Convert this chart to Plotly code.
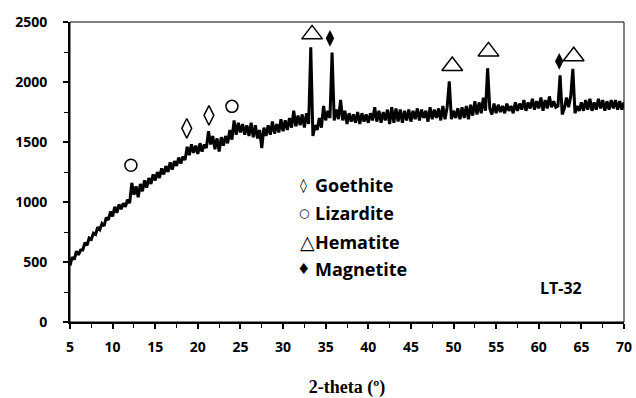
import plotly.graph_objects as go

# XRD pattern LT-32 (0.25 deg steps)
two_theta = [
    5.0, 5.25, 5.5, 5.75, 6.0, 6.25, 6.5, 6.75, 7.0, 7.25, 7.5, 7.75, 8.0, 8.25, 8.5, 8.75, 9.0, 9.25, 9.5, 9.75,
    10.0, 10.25, 10.5, 10.75, 11.0, 11.25, 11.5, 11.75, 12.0, 12.25, 12.5, 12.75, 13.0, 13.25, 13.5, 13.75, 14.0, 14.25, 14.5, 14.75,
    15.0, 15.25, 15.5, 15.75, 16.0, 16.25, 16.5, 16.75, 17.0, 17.25, 17.5, 17.75, 18.0, 18.25, 18.5, 18.75, 19.0, 19.25, 19.5, 19.75,
    20.0, 20.25, 20.5, 20.75, 21.0, 21.25, 21.5, 21.75, 22.0, 22.25, 22.5, 22.75, 23.0, 23.25, 23.5, 23.75, 24.0, 24.25, 24.5, 24.75,
    25.0, 25.25, 25.5, 25.75, 26.0, 26.25, 26.5, 26.75, 27.0, 27.25, 27.5, 27.75, 28.0, 28.25, 28.5, 28.75, 29.0, 29.25, 29.5, 29.75,
    30.0, 30.25, 30.5, 30.75, 31.0, 31.25, 31.5, 31.75, 32.0, 32.25, 32.5, 32.75, 33.0, 33.25, 33.5, 33.75, 34.0, 34.25, 34.5, 34.75,
    35.0, 35.25, 35.5, 35.75, 36.0, 36.25, 36.5, 36.75, 37.0, 37.25, 37.5, 37.75, 38.0, 38.25, 38.5, 38.75, 39.0, 39.25, 39.5, 39.75,
    40.0, 40.25, 40.5, 40.75, 41.0, 41.25, 41.5, 41.75, 42.0, 42.25, 42.5, 42.75, 43.0, 43.25, 43.5, 43.75, 44.0, 44.25, 44.5, 44.75,
    45.0, 45.25, 45.5, 45.75, 46.0, 46.25, 46.5, 46.75, 47.0, 47.25, 47.5, 47.75, 48.0, 48.25, 48.5, 48.75, 49.0, 49.25, 49.5, 49.75,
    50.0, 50.25, 50.5, 50.75, 51.0, 51.25, 51.5, 51.75, 52.0, 52.25, 52.5, 52.75, 53.0, 53.25, 53.5, 53.75, 54.0, 54.25, 54.5, 54.75,
    55.0, 55.25, 55.5, 55.75, 56.0, 56.25, 56.5, 56.75, 57.0, 57.25, 57.5, 57.75, 58.0, 58.25, 58.5, 58.75, 59.0, 59.25, 59.5, 59.75,
    60.0, 60.25, 60.5, 60.75, 61.0, 61.25, 61.5, 61.75, 62.0, 62.25, 62.5, 62.75, 63.0, 63.25, 63.5, 63.75, 64.0, 64.25, 64.5, 64.75,
    65.0, 65.25, 65.5, 65.75, 66.0, 66.25, 66.5, 66.75, 67.0, 67.25, 67.5, 67.75, 68.0, 68.25, 68.5, 68.75, 69.0, 69.25, 69.5, 69.75,
    70.0]
intensity = [
    470, 540, 520, 590, 560, 600, 600, 660, 640, 700, 690, 740, 730, 790, 770, 820, 800, 870, 850, 920,
    880, 960, 910, 980, 940, 990, 960, 1020, 990, 1160, 1060, 1130, 1040, 1150, 1090, 1180, 1120, 1200, 1150, 1230,
    1180, 1250, 1200, 1280, 1230, 1300, 1250, 1330, 1270, 1340, 1300, 1370, 1320, 1380, 1350, 1460, 1390, 1480, 1410, 1470,
    1400, 1490, 1420, 1480, 1450, 1590, 1480, 1550, 1440, 1530, 1420, 1540, 1470, 1550, 1490, 1600, 1520, 1680, 1560, 1660,
    1580, 1650, 1560, 1640, 1550, 1660, 1540, 1640, 1530, 1600, 1450, 1620, 1550, 1640, 1560, 1670, 1570, 1650, 1580, 1690,
    1590, 1680, 1600, 1700, 1620, 1760, 1630, 1720, 1640, 1730, 1620, 1740, 1650, 2290, 1550, 1640, 1600, 1700, 1620, 1800,
    1680, 1760, 1700, 2245, 1680, 1770, 1690, 1850, 1680, 1760, 1650, 1740, 1670, 1730, 1660, 1750, 1650, 1740, 1670, 1730,
    1660, 1740, 1680, 1790, 1670, 1760, 1660, 1750, 1680, 1770, 1650, 1790, 1660, 1780, 1670, 1770, 1660, 1760, 1680, 1770,
    1670, 1760, 1690, 1780, 1680, 1770, 1700, 1760, 1670, 1790, 1690, 1770, 1700, 1780, 1680, 1800, 1690, 1790, 2005, 1690,
    1760, 1700, 1780, 1690, 1790, 1700, 1800, 1690, 1810, 1720, 1840, 1730, 1830, 1740, 1870, 1760, 2115, 1780, 1730, 1820,
    1740, 1810, 1750, 1800, 1740, 1820, 1760, 1800, 1740, 1830, 1760, 1820, 1770, 1850, 1760, 1830, 1780, 1860, 1770, 1840,
    1780, 1870, 1760, 1850, 1780, 1880, 1790, 1840, 1790, 1800, 2055, 1730, 1780, 1870, 1790, 1880, 2110, 1740, 1800, 1760,
    1830, 1760, 1850, 1770, 1860, 1760, 1830, 1770, 1860, 1780, 1850, 1760, 1840, 1770, 1850, 1780, 1850, 1770, 1840, 1770,
    1830]

# Phase markers
goethite_x = [18.7, 21.3]
goethite_y = [1614, 1722]
lizardite_x = [12.15, 24.0]
lizardite_y = [1306, 1797]
hematite_x = [33.4, 49.85, 54.1, 64.1]
hematite_y = [2397, 2133, 2255, 2214]
magnetite_x = [35.5, 62.4]
magnetite_y = [2364, 2172]

legend_symbols = ["\u25CA", "\u25CB", "\u25B3", "\u2666"]
legend_symbol_sizes = [14, 12, 19, 15]
legend_names = ["Goethite", "Lizardite", "Hematite", "Magnetite"]
legend_y = [1139, 906, 664, 439]
sample_label = "LT-32"

fig = go.Figure()
fig.add_trace(go.Scatter(x=two_theta, y=intensity, mode="lines",
                         line=dict(color="black", width=3), showlegend=False))
fig.add_trace(go.Scatter(x=goethite_x, y=goethite_y, mode="markers", showlegend=False,
                         marker=dict(symbol="diamond-tall-open", size=14, color="black",
                                     line=dict(width=1.5, color="black"))))
fig.add_trace(go.Scatter(x=lizardite_x, y=lizardite_y, mode="markers", showlegend=False,
                         marker=dict(symbol="circle-open", size=12, color="black",
                                     line=dict(width=1.5, color="black"))))
fig.add_trace(go.Scatter(x=hematite_x, y=hematite_y, mode="markers", showlegend=False,
                         marker=dict(symbol="triangle-up-open", size=18, color="black",
                                     line=dict(width=1.5, color="black"))))
fig.add_trace(go.Scatter(x=magnetite_x, y=magnetite_y, mode="markers", showlegend=False,
                         marker=dict(symbol="diamond-tall", size=12, color="black",
                                     line=dict(width=0, color="black"))))

for sym, ssz, lab, yy in zip(legend_symbols, legend_symbol_sizes, legend_names, legend_y):
    fig.add_annotation(x=32.9 if sym == "\u25B3" else 32.42, y=yy, text=sym, showarrow=False,
                       xanchor="center",
                       font=dict(family="DejaVu Sans", size=ssz, color="black", weight="bold"))
    fig.add_annotation(x=33.55, y=yy, text=lab, showarrow=False, xanchor="left",
                       font=dict(family="Open Sans", size=18, color="black", weight="bold"))
fig.add_annotation(x=62.6, y=281, text=sample_label, showarrow=False,
                   font=dict(family="Open Sans", size=16, color="black", weight="bold"))

fig.add_shape(type="rect", xref="paper", yref="paper", x0=0, y0=0, x1=1, y1=1,
              line=dict(color="black", width=1))

tickfont = dict(family="Open Sans", size=14, color="black", weight="bold")
fig.update_xaxes(range=[5, 70], dtick=5, tick0=5, showline=True, linecolor="black", linewidth=2,
                 ticks="outside", ticklen=5, tickwidth=1.5, tickcolor="black",
                 minor=dict(dtick=2.5, ticks="outside", ticklen=4, tickcolor="black", tickwidth=1),
                 showgrid=False, zeroline=False, tickfont=tickfont, ticklabelstandoff=6,
                 automargin=False,
                 title=dict(text="2-theta (\u00BA)", standoff=26,
                            font=dict(family="Liberation Serif", size=18, color="black", weight="bold")))
fig.update_yaxes(range=[0, 2500], dtick=500, showline=True, linecolor="black", linewidth=2,
                 ticks="outside", ticklen=5, tickwidth=1.5, tickcolor="black",
                 minor=dict(dtick=250, ticks="outside", ticklen=4, tickcolor="black", tickwidth=1),
                 showgrid=False, zeroline=False, tickfont=tickfont, ticklabelstandoff=13,
                 automargin=False)
fig.update_layout(width=636, height=398, margin=dict(l=70, r=12, t=22, b=76),
                  plot_bgcolor="white", paper_bgcolor="white")
fig.write_html("out.html", config={"displayModeBar": False},
               post_script="document.body.style.margin='0';")
